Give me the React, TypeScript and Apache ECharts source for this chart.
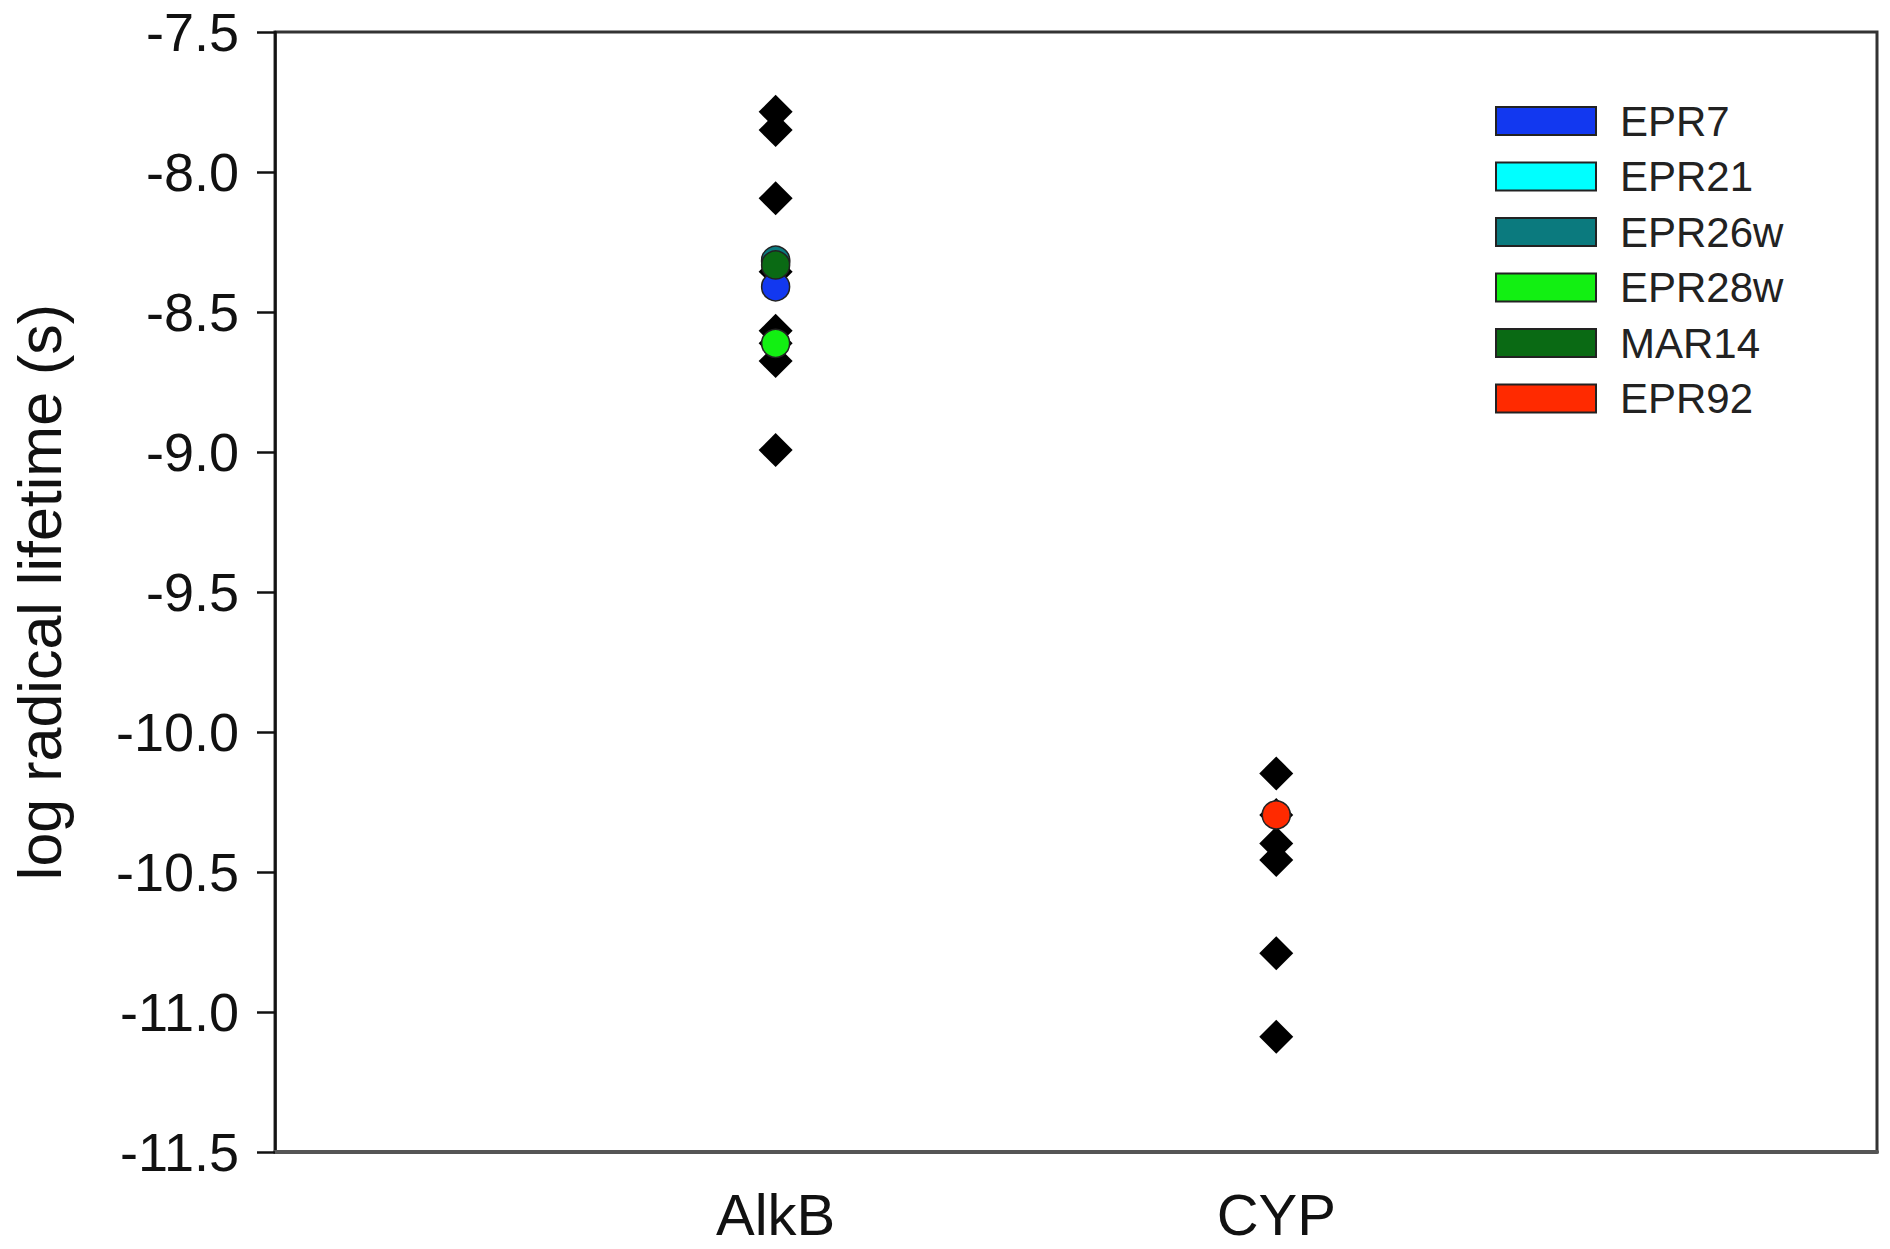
import React, { useEffect, useRef } from "react";
import * as echarts from "echarts";

const categories = ["AlkB", "CYP"];
const yTicks = { min: -11.5, max: -7.5, step: 0.5 };

// black diamonds (values per category)
const alkbDiamonds = [-7.785, -7.85, -8.094, -8.356, -8.567, -8.612, -8.675, -8.993];
const cypDiamonds = [-10.148, -10.296, -10.398, -10.457, -10.79, -11.088];

// coloured circles
const circleNames = ["EPR7", "EPR21", "EPR26w", "EPR28w", "MAR14", "EPR92"];
const circleColors = ["#1238f0", "#00ffff", "#0b7a7e", "#12f012", "#0a6a14", "#ff2a00"];
const circleX = [1, 1, 1, 1, 1, 2];
const circleY = [-8.41, -8.32, -8.315, -8.612, -8.332, -10.296];

const FONT = "'Liberation Sans', Arial, Helvetica, sans-serif";

export default function App() {
  const ref = useRef<HTMLDivElement>(null);
  useEffect(() => {
    if (!ref.current) return;
    const chart = echarts.init(ref.current, null, { renderer: "svg" });
    const diamondData = [
      ...alkbDiamonds.map((v) => [1, v]),
      ...cypDiamonds.map((v) => [2, v]),
    ];
    const circleSeries = circleNames.map((name, i) => ({
      name,
      type: "scatter",
      symbol: "circle",
      symbolSize: 28,
      z: 3,
      itemStyle: { color: circleColors[i], borderColor: "#222", borderWidth: 1.5, opacity: 1 },
      data: [[circleX[i], circleY[i]]],
    }));
    chart.setOption({
      animation: false,
      backgroundColor: "#ffffff",
      grid: {
        left: 275,
        right: 13,
        top: 32,
        bottom: 97,
        show: true,
        borderColor: "#333",
        borderWidth: 3,
        containLabel: false,
        outerBoundsMode: "none",
      },
      legend: {
        data: circleNames,
        orient: "vertical",
        left: 1490,
        top: 95,
        icon: "rect",
        itemWidth: 100,
        itemHeight: 28,
        itemGap: 13.5,
        selectedMode: false,
        itemStyle: { borderColor: "#222", borderWidth: 2, opacity: 1 },
        textStyle: {
          fontFamily: FONT,
          fontSize: 42,
          lineHeight: 42,
          color: "#222",
          padding: [0, 0, 0, 19],
        },
      },
      xAxis: {
        type: "value",
        min: 0,
        max: 3.2,
        interval: 1,
        splitLine: { show: false },
        axisTick: { show: false },
        axisLine: { show: true, lineStyle: { color: "#555", width: 4 } },
        axisLabel: {
          fontFamily: FONT,
          fontSize: 58,
          lineHeight: 58,
          color: "#111",
          margin: 33,
          showMaxLabel: false,
          formatter: (v: number) => categories[Math.round(v) - 1] ?? "",
        },
      },
      yAxis: {
        type: "value",
        min: yTicks.min,
        max: yTicks.max,
        interval: yTicks.step,
        splitLine: { show: false },
        axisLine: { show: true, lineStyle: { color: "#111", width: 2.5 } },
        axisTick: { show: true, length: 18, lineStyle: { color: "#111", width: 2.5 } },
        axisLabel: {
          fontFamily: FONT,
          fontSize: 54,
          color: "#111",
          margin: 36,
          formatter: (v: number) => v.toFixed(1),
        },
        name: "log radical lifetime (s)",
        nameLocation: "middle",
        nameGap: 205,
        nameTextStyle: { fontFamily: FONT, fontSize: 61, color: "#111" },
      },
      series: [
        {
          name: "diamonds",
          type: "scatter",
          symbol: "diamond",
          symbolSize: 34,
          z: 2,
          itemStyle: { color: "#000", opacity: 1 },
          data: diamondData,
        },
        ...circleSeries,
      ],
    });
    return () => chart.dispose();
  }, []);
  return (
    <div
      ref={ref}
      style={{ position: "fixed", left: 0, top: 0, width: 1890, height: 1249, background: "#fff" }}
    />
  );
}
